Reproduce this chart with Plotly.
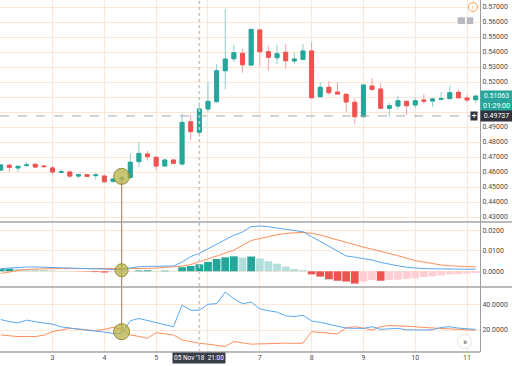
import plotly.graph_objects as go
from plotly.subplots import make_subplots
import pandas as pd

# ---------------- data ----------------
times = pd.date_range("2018-11-02 00:00", periods=56, freq="4h")

opens = [0.4613, 0.4645, 0.4627, 0.4643, 0.4651, 0.4640, 0.4627, 0.4598, 0.4600, 0.4573,
         0.4582, 0.4576, 0.4573, 0.4538, 0.4555, 0.4563, 0.4669, 0.4720, 0.4698, 0.4640,
         0.4680, 0.4653, 0.4935, 0.4865, 0.5020, 0.5069, 0.5275, 0.5355, 0.5391, 0.5313,
         0.5547, 0.5402, 0.5362, 0.5398, 0.5340, 0.5351, 0.5407, 0.5102, 0.5165, 0.5133,
         0.5118, 0.5065, 0.4969, 0.5173, 0.5153, 0.5025, 0.5040, 0.5071, 0.5047, 0.5080,
         0.5073, 0.5085, 0.5089, 0.5131, 0.5093, 0.5082]
highs = [0.4650, 0.4653, 0.4640, 0.4667, 0.4660, 0.4647, 0.4640, 0.4618, 0.4609, 0.4591,
         0.4587, 0.4593, 0.4582, 0.4556, 0.4578, 0.4724, 0.4798, 0.4742, 0.4705, 0.4690,
         0.4687, 0.4991, 0.4980, 0.5065, 0.5202, 0.5318, 0.5687, 0.5449, 0.5420, 0.5551,
         0.5555, 0.5440, 0.5449, 0.5453, 0.5398, 0.5453, 0.5465, 0.5200, 0.5207, 0.5198,
         0.5125, 0.5091, 0.5185, 0.5225, 0.5191, 0.5060, 0.5107, 0.5078, 0.5098, 0.5120,
         0.5093, 0.5133, 0.5175, 0.5147, 0.5113, 0.5107]
lows = [0.4605, 0.4600, 0.4598, 0.4635, 0.4627, 0.4627, 0.4582, 0.4591, 0.4560, 0.4560,
        0.4567, 0.4551, 0.4531, 0.4527, 0.4533, 0.4555, 0.4631, 0.4676, 0.4613, 0.4636,
        0.4651, 0.4645, 0.4813, 0.4835, 0.5000, 0.5060, 0.5151, 0.5333, 0.5262, 0.5305,
        0.5307, 0.5275, 0.5320, 0.5289, 0.5320, 0.5345, 0.5090, 0.5098, 0.5113, 0.5115,
        0.5002, 0.4920, 0.4965, 0.5140, 0.5020, 0.4969, 0.5018, 0.4980, 0.5025, 0.5053,
        0.5035, 0.5080, 0.5085, 0.5090, 0.5062, 0.5060]
closes = [0.4647, 0.4631, 0.4638, 0.4647, 0.4633, 0.4636, 0.4600, 0.4602, 0.4573, 0.4582,
          0.4571, 0.4580, 0.4535, 0.4553, 0.4560, 0.4665, 0.4724, 0.4702, 0.4640, 0.4680,
          0.4658, 0.4931, 0.4869, 0.5020, 0.5071, 0.5275, 0.5353, 0.5395, 0.5315, 0.5551,
          0.5402, 0.5365, 0.5389, 0.5342, 0.5353, 0.5407, 0.5095, 0.5165, 0.5129, 0.5120,
          0.5067, 0.4969, 0.5180, 0.5151, 0.5025, 0.5042, 0.5075, 0.5042, 0.5075, 0.5073,
          0.5087, 0.5089, 0.5129, 0.5095, 0.5080, 0.51063]

macd_line = [0.0013, 0.0016, 0.0019, 0.0021, 0.0021, 0.0020, 0.0019, 0.0018, 0.0017, 0.0015,
             0.0013, 0.0011, 0.0010, 0.0009, 0.0008, 0.0016, 0.0022, 0.0024, 0.0025, 0.0025,
             0.0026, 0.0045, 0.0072, 0.0088, 0.0110, 0.0135, 0.0158, 0.0176, 0.0192, 0.0218,
             0.0221, 0.0218, 0.0211, 0.0204, 0.0199, 0.0193, 0.0169, 0.0145, 0.0122, 0.0098,
             0.0075, 0.0069, 0.0062, 0.0055, 0.0043, 0.0034, 0.0027, 0.0020, 0.0015, 0.0013,
             0.0012, 0.0011, 0.0011, 0.0011, 0.0011, 0.0010]
signal_line = [-0.0011, -0.0002, 0.0004, 0.0009, 0.0011, 0.0012, 0.0013, 0.0013, 0.0013, 0.0013,
               0.0012, 0.0011, 0.0011, 0.0011, 0.0011, 0.0011, 0.0012, 0.0014, 0.0016, 0.0018,
               0.0020, 0.0025, 0.0033, 0.0046, 0.0060, 0.0074, 0.0089, 0.0103, 0.0127, 0.0150,
               0.0160, 0.0170, 0.0178, 0.0185, 0.0189, 0.0190, 0.0185, 0.0177, 0.0165, 0.0153,
               0.0140, 0.0128, 0.0118, 0.0108, 0.0098, 0.0088, 0.0076, 0.0064, 0.0052, 0.0045,
               0.0037, 0.0031, 0.0027, 0.0024, 0.0022, 0.0021]
macd_hist = [0.0011, 0.0013, 0.0012, 0.0010, 0.0008, 0.0006, 0.0004, 0.0002, 0.0001, -0.0001,
             -0.0002, -0.0004, -0.0006, -0.0005, -0.0003, -0.0001, 0.0004, 0.0005, 0.0002, 0.0003,
             0.0002, 0.0020, 0.0026, 0.0034, 0.0046, 0.0060, 0.0068, 0.0073, 0.0067, 0.0072,
             0.0063, 0.0049, 0.0037, 0.0023, 0.0011, 0.0006, -0.0015, -0.0026, -0.0039, -0.0046,
             -0.0050, -0.0060, -0.0050, -0.0043, -0.0046, -0.0042, -0.0041, -0.0037, -0.0034, -0.0028,
             -0.0024, -0.0020, -0.0015, -0.0014, -0.0011, -0.0008]

di_blue = [28.2, 26.5, 25.6, 27.7, 26.5, 25.6, 24.5, 22.5, 21.5, 20.3,
           19.8, 19.2, 18.5, 17.4, 17.4, 27.2, 29.0, 27.5, 25.6, 24.0,
           22.6, 39.5, 35.4, 35.4, 40.0, 40.5, 49.5, 44.4, 40.5, 41.8,
           36.5, 35.0, 34.0, 31.0, 30.5, 31.5, 27.0, 26.0, 24.5, 23.5,
           21.5, 21.3, 21.3, 22.6, 20.5, 21.0, 21.3, 20.2, 20.0, 20.0,
           20.3, 22.0, 22.6, 21.5, 21.0, 20.5]
di_orange = [16.2, 15.5, 14.9, 15.0, 14.9, 16.0, 18.7, 20.0, 21.3, 20.8,
             20.2, 19.5, 20.5, 22.1, 20.5, 16.2, 15.0, 13.6, 17.9, 17.0,
             16.2, 12.3, 11.0, 9.7, 9.0, 8.3, 7.2, 11.0, 10.0, 9.0,
             9.2, 9.5, 9.6, 9.8, 9.6, 9.8, 18.7, 18.0, 17.5, 17.0,
             21.8, 22.6, 21.5, 20.0, 22.6, 23.6, 23.2, 23.0, 22.6, 22.0,
             21.5, 21.3, 20.8, 20.5, 20.2, 20.0]

price_ticks = [0.43, 0.44, 0.45, 0.46, 0.47, 0.48, 0.49, 0.50, 0.51, 0.52, 0.53, 0.54, 0.55, 0.56, 0.57]
# 0.50000 is hidden under the price tags in the reference
price_labels = ["0.43000", "0.44000", "0.45000", "0.46000", "0.47000", "0.48000", "0.49000", "",
                "0.51000", "0.52000", "0.53000", "0.54000", "0.55000", "0.56000", "0.57000"]
macd_ticks = [0.0, 0.01, 0.02]
macd_labels = ["0.0000", "0.0100", "0.0200"]
dmi_ticks = [20, 40]
dmi_labels = ["20.0000", "40.0000"]
day_ticks = pd.date_range("2018-11-02", periods=10, freq="D")
day_labels = ["2", "3", "4", "5", "", "7", "8", "9", "10", "11"]  # "6" hidden under the crosshair tag

last_price = 0.51063
countdown_text = "01:29:00"
countdown_level = 0.5043
cross_price = 0.49737
cross_idx = 23
cross_label = "05 Nov '18  21:00"
mark_idx = 14
mark_price = 0.4571
mark_macd = 0.0005
mark_dmi = 18.7

# ---------------- styles ----------------
UP, DN = "#26a69a", "#ef5350"
UP_W, DN_W = "#8ccfc7", "#f4a3a2"
GRID = "#fce6d5"
AXC = "#9e9e9e"
TXT = "#4a4a4a"
FONT = "Roboto"
BLUE, ORANGE = "#5aa8f2", "#ff8f5c"

H_PLOT = 352.0
dom_price = [130 / H_PLOT, 1.0]
dom_macd = [65 / H_PLOT, 130 / H_PLOT]
dom_dmi = [0.0, 65 / H_PLOT]

fig = make_subplots(rows=3, cols=1, shared_xaxes=True, vertical_spacing=0)

# wicks (lighter)
fig.add_trace(go.Candlestick(
    x=times, open=opens, high=highs, low=lows, close=closes,
    increasing=dict(line=dict(color=UP_W, width=1), fillcolor=UP_W),
    decreasing=dict(line=dict(color=DN_W, width=1), fillcolor=DN_W),
    whiskerwidth=0, showlegend=False, hoverinfo="skip"), row=1, col=1)
# bodies
body_hi = [max(o, c) for o, c in zip(opens, closes)]
body_lo = [min(o, c) for o, c in zip(opens, closes)]
fig.add_trace(go.Candlestick(
    x=times, open=opens, high=body_hi, low=body_lo, close=closes,
    increasing=dict(line=dict(color=UP, width=1), fillcolor=UP),
    decreasing=dict(line=dict(color=DN, width=1), fillcolor=DN),
    whiskerwidth=0, showlegend=False, hoverinfo="skip"), row=1, col=1)

# marker line (drawing) through panels
LINEC = "#b39478"
fig.add_trace(go.Scatter(x=[times[mark_idx]] * 2, y=[mark_price, 0.3], mode="lines",
                         line=dict(color=LINEC, width=1.3), showlegend=False, hoverinfo="skip"), row=1, col=1)
fig.add_trace(go.Scatter(x=[times[mark_idx]] * 2, y=[-1, 1], mode="lines",
                         line=dict(color=LINEC, width=1.3), showlegend=False, hoverinfo="skip"), row=2, col=1)
fig.add_trace(go.Scatter(x=[times[mark_idx]] * 2, y=[200, mark_dmi], mode="lines",
                         line=dict(color=LINEC, width=1.3), showlegend=False, hoverinfo="skip"), row=3, col=1)

# MACD histogram colours
hist_colors = []
for i, v in enumerate(macd_hist):
    prev = macd_hist[i - 1] if i > 0 else v - (1 if v >= 0 else -1)
    if v >= 0:
        hist_colors.append(UP if v >= prev else "#b2dfdb")
    else:
        hist_colors.append(DN if v <= prev else "#ffcdd2")
fig.add_trace(go.Bar(x=times, y=macd_hist, marker=dict(color=hist_colors, line=dict(width=0)),
                     showlegend=False, hoverinfo="skip"), row=2, col=1)
fig.add_trace(go.Scatter(x=times, y=signal_line, mode="lines", line=dict(color=ORANGE, width=1),
                         showlegend=False, hoverinfo="skip"), row=2, col=1)
fig.add_trace(go.Scatter(x=times, y=macd_line, mode="lines", line=dict(color=BLUE, width=1),
                         showlegend=False, hoverinfo="skip"), row=2, col=1)

# DMI
fig.add_trace(go.Scatter(x=times, y=di_orange, mode="lines", line=dict(color=ORANGE, width=1),
                         showlegend=False, hoverinfo="skip"), row=3, col=1)
fig.add_trace(go.Scatter(x=times, y=di_blue, mode="lines", line=dict(color=BLUE, width=1),
                         showlegend=False, hoverinfo="skip"), row=3, col=1)

# circles
circ = dict(color="rgba(182,176,66,0.72)", line=dict(color="rgba(140,134,40,0.9)", width=1))
fig.add_trace(go.Scatter(x=[times[mark_idx]], y=[mark_price], mode="markers",
                         marker=dict(size=16, **circ), showlegend=False, hoverinfo="skip"), row=1, col=1)
fig.add_trace(go.Scatter(x=[times[mark_idx]], y=[mark_macd], mode="markers",
                         marker=dict(size=13, **circ), showlegend=False, hoverinfo="skip"), row=2, col=1)
fig.add_trace(go.Scatter(x=[times[mark_idx]], y=[mark_dmi], mode="markers",
                         marker=dict(size=16, **circ), showlegend=False, hoverinfo="skip"), row=3, col=1)

xrange = ["2018-11-01 23:40", "2018-11-11 06:00"]
xcommon = dict(range=xrange, type="date", showgrid=True, gridcolor=GRID, gridwidth=1,
               tickvals=day_ticks, ticktext=day_labels, zeroline=False,
               rangeslider=dict(visible=False), showline=False, ticks="")
ycommon = dict(side="right", showgrid=True, gridcolor=GRID, zeroline=False,
               showline=True, linecolor=AXC, linewidth=1, ticks="",
               tickfont=dict(family=FONT, size=7, color=TXT))
fig.update_layout(
    xaxis=dict(domain=[0, 1], showticklabels=False, **xcommon),
    xaxis2=dict(domain=[0, 1], showticklabels=False, **xcommon),
    xaxis3=dict(domain=[0, 1], showticklabels=True,
                tickfont=dict(family=FONT, size=7, color=TXT), **xcommon),
    yaxis=dict(domain=dom_price, range=[0.42667, 0.57467], tickvals=price_ticks,
               ticktext=price_labels, **ycommon),
    yaxis2=dict(domain=dom_macd, range=[-0.00766, 0.02405], tickvals=macd_ticks,
                ticktext=macd_labels, **ycommon),
    yaxis3=dict(domain=dom_dmi, range=[2.9, 53.5], tickvals=dmi_ticks,
                ticktext=dmi_labels, **ycommon),
    width=512, height=366,
    margin=dict(l=0, r=32, t=0, b=14, autoexpand=False),
    paper_bgcolor="white", plot_bgcolor="white",
    showlegend=False, hovermode=False, boxgap=0.35, bargap=0.1,
    font=dict(family=FONT, size=7, color=TXT),
)

shapes = []
# panel separators
for yy in [dom_macd[1], dom_dmi[1]]:
    shapes.append(dict(type="line", xref="paper", yref="paper", x0=0, x1=512 / 480, y0=yy, y1=yy,
                       line=dict(color="#a4a4a4", width=1.5)))
shapes.append(dict(type="line", xref="paper", yref="paper", x0=0, x1=1, y0=0, y1=0,
                   line=dict(color="#a4a4a4", width=1.5)))
# crosshair
shapes.append(dict(type="line", xref="x", yref="paper", x0=times[cross_idx], x1=times[cross_idx], y0=0, y1=1,
                   line=dict(color="#c4c4c4", width=1.6, dash="dot")))
shapes.append(dict(type="line", xref="paper", yref="y", x0=0, x1=1, y0=cross_price, y1=cross_price,
                   line=dict(color="#a8a8a8", width=1, dash="dash")))
# UI chrome: alert icon, buttons, scroll button
shapes.append(dict(type="circle", xref="paper", yref="paper",
                   x0=468.5 / 480, x1=477.5 / 480, y0=(352 - 11.5) / 352, y1=(352 - 2.5) / 352,
                   line=dict(color="#ff9d4d", width=1), fillcolor="white"))
for bx0, bx1 in [(457.7, 465.0), (466.7, 473.3)]:
    shapes.append(dict(type="rect", xref="paper", yref="paper",
                       x0=bx0 / 480, x1=bx1 / 480, y0=(352 - 24) / 352, y1=(352 - 17.3) / 352,
                       line=dict(width=0), fillcolor="#b7bac2"))
shapes.append(dict(type="circle", xref="paper", yref="paper",
                   x0=457.5 / 480, x1=471.5 / 480, y0=(352 - 348.5) / 352, y1=(352 - 334.5) / 352,
                   line=dict(color="#e4e4e4", width=1), fillcolor="white"))
fig.update_layout(shapes=shapes)

ann = []
tag_font = dict(family=FONT, size=7, color="white")
ann.append(dict(xref="paper", yref="y", x=1, y=last_price, xanchor="left", yanchor="middle",
                text=f"{last_price:.5f}", showarrow=False, bgcolor=UP, font=tag_font,
                width=29, height=8, borderpad=1, align="center"))
ann.append(dict(xref="paper", yref="y", x=1, y=countdown_level, xanchor="left", yanchor="middle",
                text=countdown_text, showarrow=False, bgcolor=UP, font=tag_font,
                width=29, height=8, borderpad=1, align="center"))
ann.append(dict(xref="paper", yref="y", x=1, y=cross_price, xanchor="left", yanchor="middle",
                text=f"{cross_price:.5f}", showarrow=False, bgcolor="#2f333e", font=tag_font,
                width=29, height=8, borderpad=1, align="center"))
ann.append(dict(xref="paper", yref="y", x=1, y=cross_price, xanchor="right", yanchor="middle",
                text="+", showarrow=False, bgcolor="#2f333e", font=dict(family=FONT, size=9, color="white"),
                width=6, height=8, borderpad=0, xshift=-2, align="center"))
ann.append(dict(xref="x", yref="paper", x=times[cross_idx], y=0, xanchor="center", yanchor="top",
                text=cross_label, showarrow=False, bgcolor="#3a3e49",
                font=dict(family=FONT, size=6.5, color="white"),
                height=8, borderpad=1, align="center"))
ann.append(dict(xref="paper", yref="paper", x=473 / 480, y=(352 - 7) / 352, xanchor="center", yanchor="middle",
                text="!", showarrow=False, font=dict(family=FONT, size=6, color="#ff9d4d")))
ann.append(dict(xref="paper", yref="paper", x=464.5 / 480, y=(352 - 341.5) / 352, xanchor="center",
                yanchor="middle", text="»", showarrow=False, font=dict(family=FONT, size=9, color="#444")))
fig.update_layout(annotations=ann)

fig.write_html("out.html", config=dict(displayModeBar=False, staticPlot=True),
               post_script="document.body.style.margin='0';document.body.style.padding='0';")
